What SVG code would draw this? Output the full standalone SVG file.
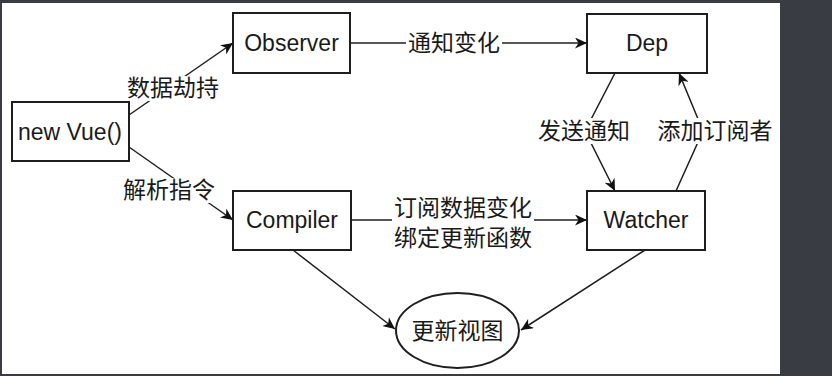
<svg xmlns="http://www.w3.org/2000/svg" width="832" height="376" viewBox="0 0 832 376">
<defs>
<style>
.node{fill:#fff;stroke:#1e1e1e;stroke-width:2}
.t{font-family:"Liberation Sans","Noto Sans CJK SC",sans-serif;font-size:23px;fill:#1a1a1a;text-anchor:middle}
.edge{fill:none;stroke:#1e1e1e;stroke-width:1.5}
.lbg{fill:#fff}
</style>
<marker id="arr" markerUnits="userSpaceOnUse" markerWidth="13" markerHeight="11" refX="12" refY="5.5" orient="auto">
<path d="M0,0 L12,5.5 L0,11 L3.5,5.5 z" fill="#111"/>
</marker>
</defs>
<rect x="0" y="0" width="832" height="376" fill="#393c43"/>
<rect x="2" y="3" width="778" height="371" fill="#fff"/>

<g id="connectors">
<path class="edge" d="M129,115 L233,43" marker-end="url(#arr)"/>
<path class="edge" d="M129,147 L233,220" marker-end="url(#arr)"/>
<path class="edge" d="M350,43 L587,43" marker-end="url(#arr)"/>
<path class="edge" d="M351,220 L587,220" marker-end="url(#arr)"/>
<path class="edge" d="M615,73 L585,131 L615,191" marker-end="url(#arr)"/>
<path class="edge" d="M676,191 L703,131 L679,73" marker-end="url(#arr)"/>
<path class="edge" d="M293,250 L395,329" marker-end="url(#arr)"/>
<path class="edge" d="M645,250 L521,330" marker-end="url(#arr)"/>

<rect class="lbg" x="125" y="76" width="96" height="25"/>
<text class="t" x="173" y="96">数据劫持</text>
<rect class="lbg" x="121" y="178" width="96" height="25"/>
<text class="t" x="169" y="198">解析指令</text>
<rect class="lbg" x="406" y="31" width="96" height="25"/>
<text class="t" x="454" y="51">通知变化</text>
<rect class="lbg" x="392" y="196" width="142" height="55"/>
<text class="t" x="463" y="216">订阅数据变化</text>
<text class="t" x="463" y="246">绑定更新函数</text>
<rect class="lbg" x="536" y="118" width="96" height="26"/>
<text class="t" x="584" y="139">发送通知</text>
<rect class="lbg" x="656" y="118" width="118" height="26"/>
<text class="t" x="715" y="139">添加订阅者</text>
</g>

<g id="newvue">
<rect class="node" x="12" y="102" width="117" height="59"/>
<text class="t" x="70" y="140">new Vue()</text>
</g>
<g id="observer">
<rect class="node" x="233" y="13" width="117" height="60"/>
<text class="t" x="291.5" y="51">Observer</text>
</g>
<g id="dep">
<rect class="node" x="587" y="14" width="120" height="59"/>
<text class="t" x="647" y="51">Dep</text>
</g>
<g id="compiler">
<rect class="node" x="233" y="191" width="118" height="59"/>
<text class="t" x="292" y="228">Compiler</text>
</g>
<g id="watcher">
<rect class="node" x="587" y="191" width="118" height="59"/>
<text class="t" x="646" y="228">Watcher</text>
</g>
<g id="update">
<ellipse class="node" cx="457.5" cy="330.5" rx="61.5" ry="37.5" stroke-width="1.5"/>
<text class="t" x="457.5" y="339">更新视图</text>
</g>
</svg>
